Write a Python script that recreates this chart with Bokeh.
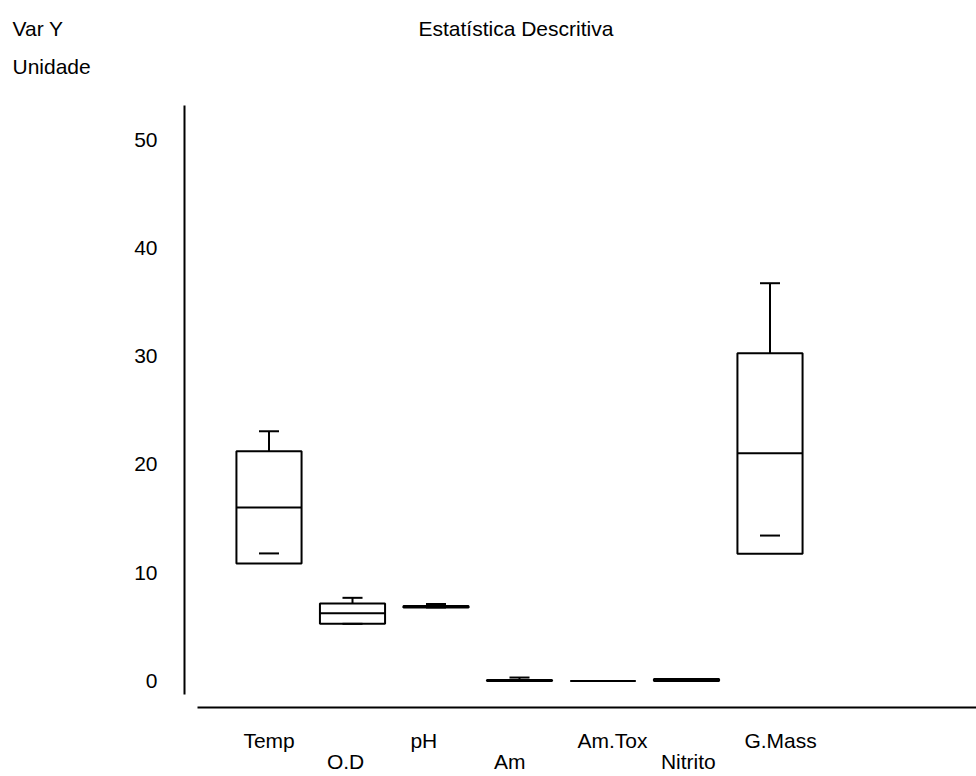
from bokeh.plotting import figure
from bokeh.models import (LinearAxis, FixedTicker, Range1d, Label, LabelSet, ColumnDataSource)
from bokeh.core.properties import value
from bokeh.embed import file_html
from bokeh.resources import INLINE

# ---- data ----
categorias = ["Temp", "O.D", "pH", "Am", "Am.Tox", "Nitrito", "G.Mass"]
q1 = [10.86, 5.28, 6.79, 0.0, 0.0, 0.0, 11.75]
q3 = [21.22, 7.16, 6.93, 0.1, 0.0, 0.18, 30.27]
mediana = [16.02, 6.26, 6.86, 0.05, 0.0, 0.1, 21.03]
maximo = [23.06, 7.68, 7.11, 0.32, 0.0, 0.18, 36.73]
marca = [11.78, 5.28, 6.79, 0.0, 0.0, 0.0, 13.43]
y_ticks = [0, 10, 20, 30, 40, 50]

FONT = "Liberation Sans"
FS = "21px"
W, H = 976, 776

# layout geometry (pixels on the canvas)
X1_PX, DX_PX = 268.5, 83.5        # centre of first box, spacing between boxes
Y0_PX, DY_PX = 680.5, 10.83       # pixel of y=0, pixels per unit
YAXIS_PX, XAXIS_PX = 184, 707     # axis lines
ROW_PX = (740, 761)               # category label rows


def xd(px):
    return 1 + (px - X1_PX) / DX_PX


def yd(py):
    return (Y0_PX - py) / DY_PX


pos = [i + 1 for i in range(len(categorias))]
BW = 0.78   # box width (x units)
CW = 0.24   # cap width
LBL_IN = 7 / DX_PX  # category label starts 7px right of the box edge

src = ColumnDataSource(dict(
    x=pos, cat=categorias, q1=q1, q3=q3, med=mediana, mx=maximo, mk=marca,
    xl=[p - BW / 2 for p in pos], xr=[p + BW / 2 for p in pos],
    cl=[p - CW / 2 for p in pos], cr=[p + CW / 2 for p in pos],
    lx=[p - BW / 2 + LBL_IN for p in pos],
    ly=[yd(ROW_PX[i % 2]) for i in range(len(pos))],
))

p = figure(width=W, height=H, output_backend="svg", toolbar_location=None,
           x_range=Range1d(xd(0), xd(W)), y_range=Range1d(yd(H), yd(0)),
           x_axis_location=None, y_axis_location=None,
           min_border=0)
p.xgrid.visible = False
p.ygrid.visible = False
p.outline_line_color = None
p.background_fill_color = "white"
p.border_fill_color = "white"

# y axis
yax = LinearAxis(ticker=FixedTicker(ticks=y_ticks), fixed_location=xd(YAXIS_PX),
                 bounds=(yd(694), yd(105)))
yax.major_tick_in = 0
yax.major_tick_out = 0
yax.minor_tick_in = 0
yax.minor_tick_out = 0
yax.major_label_standoff = 27
yax.axis_line_width = 2
yax.axis_line_color = "black"
yax.major_label_text_font = FONT
yax.major_label_text_font_size = FS
yax.major_label_text_color = "black"
p.add_layout(yax, "left")

# x axis line (category names drawn below it, staggered in two rows)
xax = LinearAxis(ticker=FixedTicker(ticks=[]), fixed_location=yd(XAXIS_PX),
                 bounds=(xd(197), xd(W)))
xax.major_tick_in = 0
xax.major_tick_out = 0
xax.minor_tick_in = 0
xax.minor_tick_out = 0
xax.major_label_text_font_size = "0px"
xax.axis_line_width = 2
xax.axis_line_color = "black"
p.add_layout(xax, "below")

p.add_layout(LabelSet(x="lx", y="ly", text="cat", source=src,
                      text_font=value(FONT), text_font_size=value(FS),
                      text_color="black", text_align="left",
                      text_baseline="middle"))

# boxes
p.quad(left="xl", right="xr", bottom="q1", top="q3", source=src,
       fill_color=None, line_color="black", line_width=2)
p.segment(x0="xl", x1="xr", y0="med", y1="med", source=src,
          line_color="black", line_width=2)
p.segment(x0="x", x1="x", y0="q3", y1="mx", source=src,
          line_color="black", line_width=2)
p.segment(x0="cl", x1="cr", y0="mx", y1="mx", source=src,
          line_color="black", line_width=2)
p.segment(x0="cl", x1="cr", y0="mk", y1="mk", source=src,
          line_color="black", line_width=2)

# header texts
for txt, px, py in [("Var Y", 12, 28), ("Unidade", 12, 66),
                    ("Estatística Descritiva", 418, 28)]:
    p.add_layout(Label(x=xd(px), y=yd(py), text=txt,
                       text_font=FONT, text_font_size=FS, text_color="black",
                       text_baseline="middle", text_align="left"))

open("out.html", "w").write(file_html(p, INLINE))
